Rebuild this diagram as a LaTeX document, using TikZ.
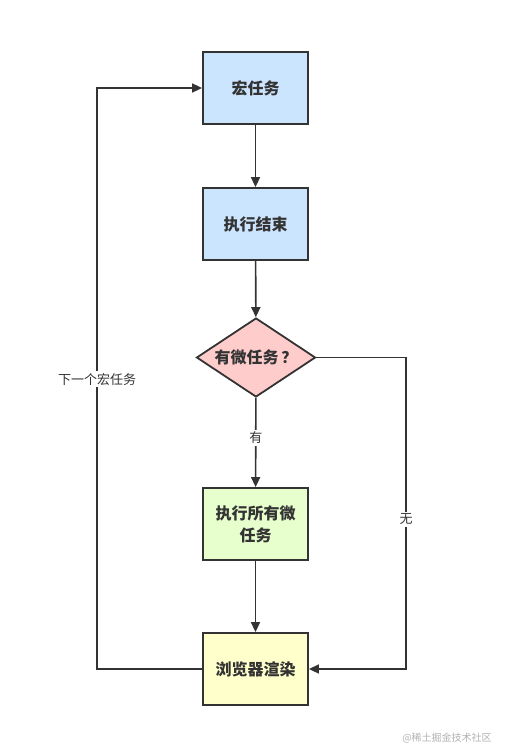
\documentclass[tikz,border=0pt]{standalone}
\usepackage{fontspec}
\newfontfamily\cjk{Noto Sans CJK SC}
\usetikzlibrary{arrows.meta,shapes.geometric}
\definecolor{bord}{HTML}{333333}
\definecolor{txt}{HTML}{333333}
\tikzset{
  procbox/.style={draw=bord, line width=1.8pt, minimum width=105pt, minimum height=72pt, inner sep=2pt, align=center, text width=95pt, font=\cjk\bfseries\fontsize{16}{22}\selectfont, text=txt},
  decide/.style={draw=bord, line width=1.8pt, diamond, fill=pinkf, minimum width=119pt, minimum height=79pt, aspect=1.5, inner sep=0pt, font=\cjk\bfseries\fontsize{16}{22}\selectfont, text=txt},
  conn/.style={draw=bord, line width=1.6pt, -{Triangle[length=10pt,width=9pt]}},
  lbl/.style={fill=white, font=\cjk\fontsize{13}{15}\selectfont, text=txt, inner sep=2pt},
}
\definecolor{bluef}{HTML}{CCE5FF}
\definecolor{pinkf}{HTML}{FFCCCC}
\definecolor{greenf}{HTML}{E6FFCC}
\definecolor{yellowf}{HTML}{FFFFCC}
\begin{document}
\begin{tikzpicture}[x=1pt,y=-1pt]
\useasboundingbox[fill=white] (0,0) rectangle (507,749);
\node[procbox, fill=bluef] (macro) at (255.5,88) {宏任务};
\node[procbox, fill=bluef] (done) at (255.5,224) {执行结束};
\node[decide] (q) at (256,357.5) {有微任务\,？};
\node[procbox, fill=greenf] (micro) at (255.5,524) {执行所有微\\任务};
\node[procbox, fill=yellowf] (render) at (255.5,669) {浏览器渲染};
\coordinate (lb) at (97,669);
\coordinate (lt) at (97,88);
\coordinate (rt) at (406,357.5);
\coordinate (rb) at (406,669);
\draw[conn] (macro) -- (done);
\draw[conn] (done) -- (q);
\draw[conn] (q) -- node[lbl, pos=0.45] {有} (micro);
\draw[conn] (micro) -- (render);
\draw[conn] (q.east) -- (rt) -- node[lbl, pos=0.52] {无} (rb) -- (render.east);
\draw[conn] (render.west) -- (lb) -- node[lbl, pos=0.499] {下一个宏任务} (lt) -- (macro.west);
\node[font=\cjk\fontsize{10}{12}\selectfont, text=black!30] (wm) at (447,738) {@稀土掘金技术社区};
\end{tikzpicture}
\end{document}
